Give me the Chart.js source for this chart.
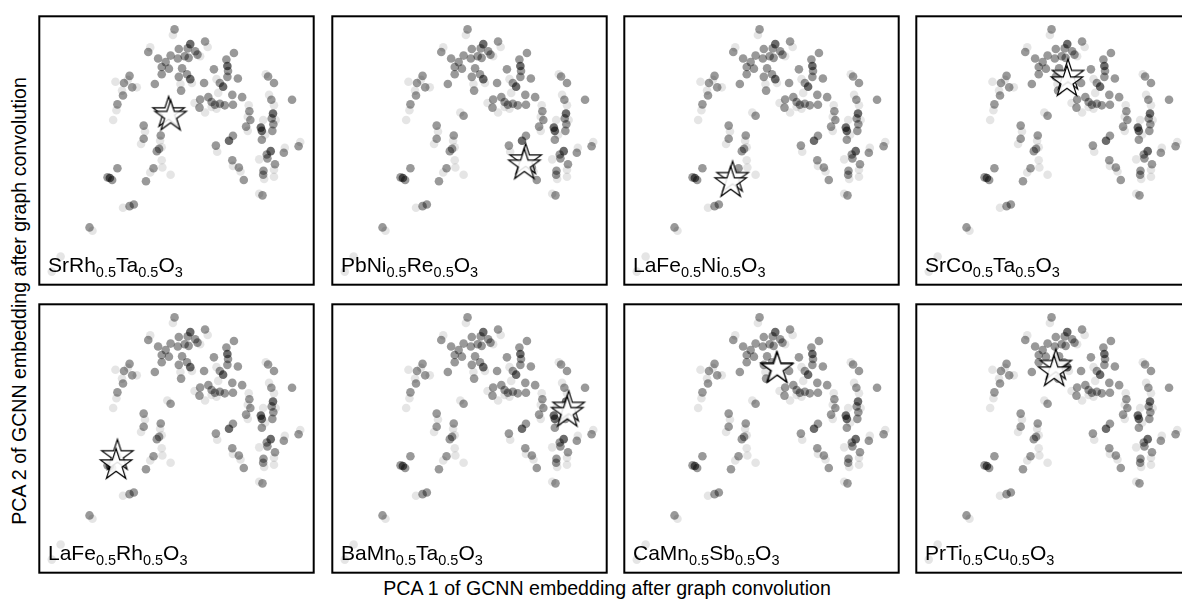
<!DOCTYPE html>
<html>
<head>
<meta charset="utf-8">
<script src="https://cdn.jsdelivr.net/npm/chart.js@4.4.1/dist/chart.umd.min.js"></script>
<style>
  body { margin: 0; background: #fff; overflow: hidden; }
  #fig { position: relative; width: 1182px; height: 601px; overflow: hidden; }
  .panel { position: absolute; }
  .lab, .axt {
    position: absolute; white-space: nowrap; color: #000;
    font-family: "Liberation Sans", Arial, sans-serif; line-height: 20px;
  }
  .lab { font-size: 21px; }
  .lab sub { font-size: 14.5px; vertical-align: -4.5px; line-height: 0; }
  .axt { text-align: center; font-size: 19.6px; }
</style>
</head>
<body>
<div id="fig"></div>
<script>
// same embedding in every panel, star = the highlighted composition
const panelFormulas = ['SrRh_0.5Ta_0.5O_3', 'PbNi_0.5Re_0.5O_3', 'LaFe_0.5Ni_0.5O_3', 'SrCo_0.5Ta_0.5O_3',
                       'LaFe_0.5Rh_0.5O_3', 'BaMn_0.5Ta_0.5O_3', 'CaMn_0.5Sb_0.5O_3', 'PrTi_0.5Cu_0.5O_3'];

const darkPts = [[4.82,-1.13],[5.95,-1.80],[4.82,-2.20],[5.82,-2.43],[7.34,-3.25],[6.97,-3.68],[7.00,-3.78],
  [6.00,-4.08],[7.27,-4.40],[2.37,-5.22]];

const midPts = [[4.34,-0.68],[5.27,-1.05],[3.54,-1.37],[4.47,-1.28],[4.74,-1.26],[4.22,-1.48],[4.44,-1.57],
  [4.65,-1.50],[4.77,-1.55],[4.97,-1.35],[5.04,-1.45],[3.84,-1.57],[4.07,-1.68],[3.95,-1.83],[4.17,-1.88],
  [4.57,-1.87],[6.15,-1.40],[5.92,-1.60],[5.97,-1.95],[5.95,-2.13],[5.54,-1.90],[3.95,-2.05],[4.47,-2.13],
  [4.72,-2.05],[6.27,-2.18],[5.72,-2.32],[5.24,-2.32],[3.74,-2.35],[4.54,-2.55],[2.97,-2.10],[2.80,-2.32],
  [3.05,-2.45],[2.77,-2.70],[2.60,-2.97],[6.10,-2.68],[6.40,-2.75],[5.12,-2.82],[5.37,-2.75],[5.47,-2.90],
  [5.57,-2.98],[5.72,-2.95],[5.87,-3.00],[5.10,-3.07],[6.12,-2.98],[7.19,-2.12],[7.37,-2.32],[7.29,-2.83],
  [7.92,-2.83],[6.62,-3.18],[6.65,-3.45],[6.52,-3.65],[7.30,-3.40],[7.35,-3.58],[7.32,-3.78],[7.00,-4.05],
  [4.22,-3.32],[3.40,-3.62],[3.40,-4.02],[3.92,-3.92],[3.80,-4.40],[3.87,-4.33],[6.12,-3.93],[5.60,-4.23],
  [7.15,-4.50],[7.17,-4.62],[7.40,-4.80],[7.05,-5.00],[7.67,-4.45],[8.12,-4.25],[6.10,-4.68],[6.30,-4.90],
  [6.45,-5.28],[7.04,-5.12],[3.70,-4.92],[3.47,-5.32],[2.60,-4.92],[2.30,-5.20],[2.44,-5.28],[7.02,-5.75],
  [3.10,-6.03],[2.97,-6.08],[1.75,-6.73]];

const lightPts = [[4.29,-0.85],[5.35,-1.22],[3.60,-1.23],[5.12,-1.50],[4.87,-2.32],[4.52,-2.35],[5.62,-2.20],
  [5.67,-2.62],[2.92,-2.22],[2.54,-2.28],[3.19,-2.45],[2.74,-2.55],[2.57,-3.15],[2.47,-3.45],[4.95,-2.93],
  [5.62,-3.10],[5.47,-3.05],[5.27,-3.22],[7.12,-2.05],[7.22,-2.68],[7.37,-3.00],[6.60,-3.00],[6.57,-3.35],
  [6.57,-3.78],[7.42,-3.45],[7.04,-3.45],[7.10,-3.90],[4.12,-3.22],[3.44,-3.80],[3.32,-4.18],[3.90,-4.08],
  [3.95,-4.28],[5.64,-4.42],[6.92,-4.65],[7.70,-4.30],[8.17,-4.12],[6.12,-4.85],[6.35,-5.02],[7.07,-5.25],
  [7.37,-4.97],[7.37,-5.18],[3.95,-4.68],[3.97,-4.90],[3.60,-5.05],[4.22,-5.12],[6.92,-5.70],[2.77,-6.13],
  [1.84,-6.83],[0.87,-7.62],[0.60,-8.08]];

// two overlapping star markers per panel
const starA = [[4.16,-3.20],[6.11,-4.64],[3.52,-5.18],[4.84,-2.06],[2.60,-4.88],[7.42,-3.40],[4.86,-2.20],[4.47,-2.12]];
const starB = [[4.22,-3.31],[6.07,-4.80],[3.46,-5.34],[4.81,-2.26],[2.56,-5.16],[7.38,-3.56],[4.88,-2.22],[4.42,-2.32]];

const xRange = [0.22, 8.58];
const yRange = [-8.48, -0.28];

const colLeft = [37, 330, 622, 914];
const rowTop = [14, 302];
const panelW = 279, panelH = 273, pad = 2;

function toXY(list) { return list.map(p => ({ x: p[0], y: p[1] })); }

// five-pointed star image used as pointStyle
function makeStar() {
  const c = document.createElement('canvas');
  c.width = 40; c.height = 40;
  const g = c.getContext('2d');
  const R = 16.5, r = R * 0.382, cx = 20, cy = 21;
  g.beginPath();
  for (let i = 0; i < 10; i++) {
    const rad = i % 2 === 0 ? R : r;
    const a = -Math.PI / 2 + i * Math.PI / 5;
    const px = cx + rad * Math.cos(a), py = cy + rad * Math.sin(a);
    if (i === 0) g.moveTo(px, py); else g.lineTo(px, py);
  }
  g.closePath();
  g.fillStyle = 'rgba(255,255,255,0.88)';
  g.fill();
  g.lineWidth = 1.2;
  g.strokeStyle = '#000';
  g.stroke();
  return c;
}
const starImg = makeStar();

const frame = {
  id: 'frame',
  afterDraw(chart) {
    const a = chart.chartArea, ctx = chart.ctx;
    ctx.save();
    ctx.lineWidth = 2;
    ctx.strokeStyle = '#000';
    ctx.strokeRect(a.left, a.top, a.right - a.left, a.bottom - a.top);
    ctx.restore();
  }
};

const fig = document.getElementById('fig');

panelFormulas.forEach((f, i) => {
  const col = i % 4, row = Math.floor(i / 4);
  const L = colLeft[col], T = rowTop[row];

  const box = document.createElement('div');
  box.className = 'panel';
  box.style.left = (L - pad) + 'px';
  box.style.top = (T - pad) + 'px';
  const cv = document.createElement('canvas');
  cv.width = panelW + 2 * pad;
  cv.height = panelH + 2 * pad;
  box.appendChild(cv);
  fig.appendChild(box);

  new Chart(cv.getContext('2d'), {
    type: 'scatter',
    data: {
      datasets: [
        { data: toXY([starB[i]]), pointStyle: starImg, order: 0 },
        { data: toXY([starA[i]]), pointStyle: starImg, order: 1 },
        { data: toXY(darkPts), backgroundColor: 'rgba(0,0,0,0.58)', order: 2 },
        { data: toXY(midPts), backgroundColor: 'rgba(0,0,0,0.4)', order: 3 },
        { data: toXY(lightPts), backgroundColor: 'rgba(0,0,0,0.1)', order: 4 }
      ]
    },
    options: {
      responsive: false,
      animation: false,
      devicePixelRatio: 1,
      layout: { padding: pad },
      elements: { point: { radius: 4.3, borderWidth: 0, hoverRadius: 4.3 } },
      plugins: { legend: { display: false }, tooltip: { enabled: false } },
      scales: {
        x: { type: 'linear', display: false, min: xRange[0], max: xRange[1] },
        y: { type: 'linear', display: false, min: yRange[0], max: yRange[1] }
      }
    },
    plugins: [frame]
  });

  const lab = document.createElement('div');
  lab.className = 'lab';
  lab.innerHTML = f.replace(/_([\d.]+)/g, '<sub>$1</sub>');
  lab.style.left = (L + 11) + 'px';
  lab.style.top = (T + panelH - 16 - 16.5) + 'px';
  fig.appendChild(lab);
});

const xt = document.createElement('div');
xt.className = 'axt';
xt.textContent = 'PCA 1 of GCNN embedding after graph convolution';
xt.style.left = (607 - 300) + 'px';
xt.style.width = '600px';
xt.style.top = (595 - 16.75) + 'px';
fig.appendChild(xt);

const yt = document.createElement('div');
yt.className = 'axt';
yt.textContent = 'PCA 2 of GCNN embedding after graph convolution';
yt.style.width = '560px';
yt.style.height = '20px';
yt.style.left = (19.25 - 280) + 'px';
yt.style.top = (301 - 10) + 'px';
yt.style.transform = 'rotate(-90deg)';
yt.style.transformOrigin = '50% 50%';
fig.appendChild(yt);
</script>
</body>
</html>
